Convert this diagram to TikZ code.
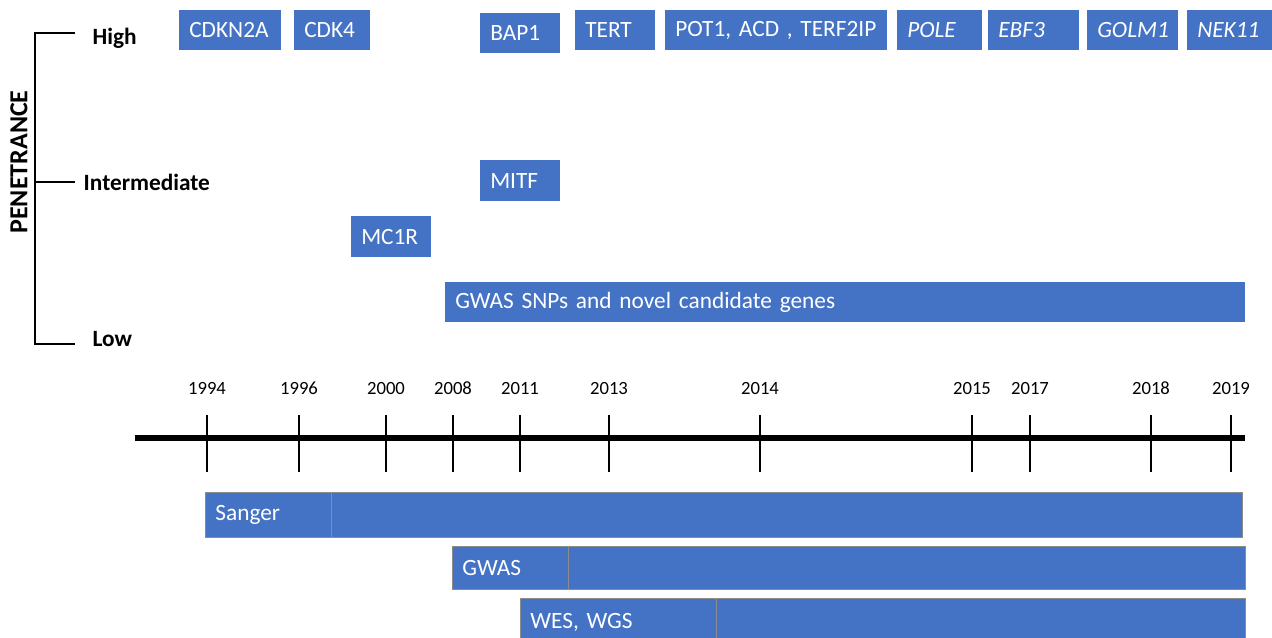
\documentclass[tikz,border=0pt]{standalone}
\usepackage{fontspec}
\setmainfont{Carlito}
\usetikzlibrary{positioning}
\definecolor{pblue}{HTML}{4472C4}
\definecolor{pgrey}{HTML}{8C8C8C}
\def\px{0.75pt}

\begin{document}
\begin{tikzpicture}[
  x=0.75pt, y=-0.75pt,
  gene/.style={
    fill=pblue,
    text=white,
    anchor=north west,
    align=left,
    inner xsep=10*\px,
    inner ysep=0pt,
    minimum height=40*\px,
    font=\fontsize{17.5}{20}\selectfont
  },
  bar/.style={gene, draw=pgrey, line width=0.6pt},
  level/.style={font=\fontsize{17.5}{20}\selectfont\bfseries, anchor=west},
  year/.style={font=\fontsize{14}{16}\selectfont, anchor=base},
  tick/.style={line width=0.9pt},
  axis/.style={line width=4.5pt}
]
\useasboundingbox (0,0) rectangle (1272,638);
\clip (0,0) rectangle (1272,638);

% Penetrance scale
\node[font=\fontsize{19.5}{22}\selectfont\bfseries, rotate=90] (pen) at (19,162) {PENETRANCE};
\coordinate (hi) at (75,33);
\coordinate (mid) at (75,182);
\coordinate (lo) at (75,344);
\draw[tick] (hi) -| (35,344) -- (lo);
\draw[tick] (35,182) -- (mid);
\node[level] (high) at (88,38) {High};
\node[level] (inter) at (79,182) {Intermediate};
\node[level] (low) at (88,339) {Low};

% High penetrance genes
\node[gene, text width=82*\px] (cdkn2a) at (179,10) {CDKN2A};
\node[gene, text width=56*\px] (cdk4) at (294,10) {CDK4};
\node[gene, text width=60*\px] (bap1) at (480,13) {BAP1};
\node[gene, text width=60*\px] (tert) at (575,10) {TERT};
\node[gene, text width=202*\px] (pot1) at (665,10) {POT1, ACD , TERF2IP};
\node[gene, text width=65*\px] (pole) at (897,10) {\itshape POLE};
\node[gene, text width=71*\px] (ebf3) at (988,10) {\itshape EBF3};
\node[gene, text width=71*\px] (golm1) at (1087,10) {\itshape GOLM1};
\node[gene, text width=65*\px] (nek11) at (1187,10) {\itshape NEK11};

% Intermediate and low penetrance
\node[gene, text width=60*\px, minimum height=41*\px] (mitf) at (480,160) {MITF};
\node[gene, text width=60*\px, minimum height=41*\px] (mc1r) at (351,216) {MC1R};
\node[gene, text width=780*\px] (gwassnp) at (445,282) {GWAS SNPs and novel candidate genes};

% Timeline
\coordinate (tl) at (135,438);
\coordinate (tr) at (1245,438);
\draw[axis] (tl) -- (tr);
\foreach \yr/\xx in {1994/207,1996/299,2000/386,2008/453,2011/520,2013/609,
                     2014/760,2015/972,2017/1030,2018/1151,2019/1231}{
  \node[year] (y\yr) at (\xx,394) {\yr};
  \draw[tick] (\xx,415) -- (\xx,472);
}

% Sequencing technologies
\node[bar, text width=1017*\px, minimum height=45*\px] (sangerbar) at (205,492) {};
\node[bar, text width=106*\px, minimum height=45*\px] (sanger) at (205,492) {Sanger};
\node[bar, text width=773*\px, minimum height=43*\px] (gwasbar) at (452,546) {};
\node[bar, text width=96*\px, minimum height=43*\px] (gwas) at (452,546) {GWAS};
\node[bar, text width=705*\px, minimum height=48*\px] (wesbar) at (520,598) {};
\node[bar, text width=176*\px, minimum height=48*\px] (wes) at (520,598) {WES, WGS};

\end{tikzpicture}
\end{document}
